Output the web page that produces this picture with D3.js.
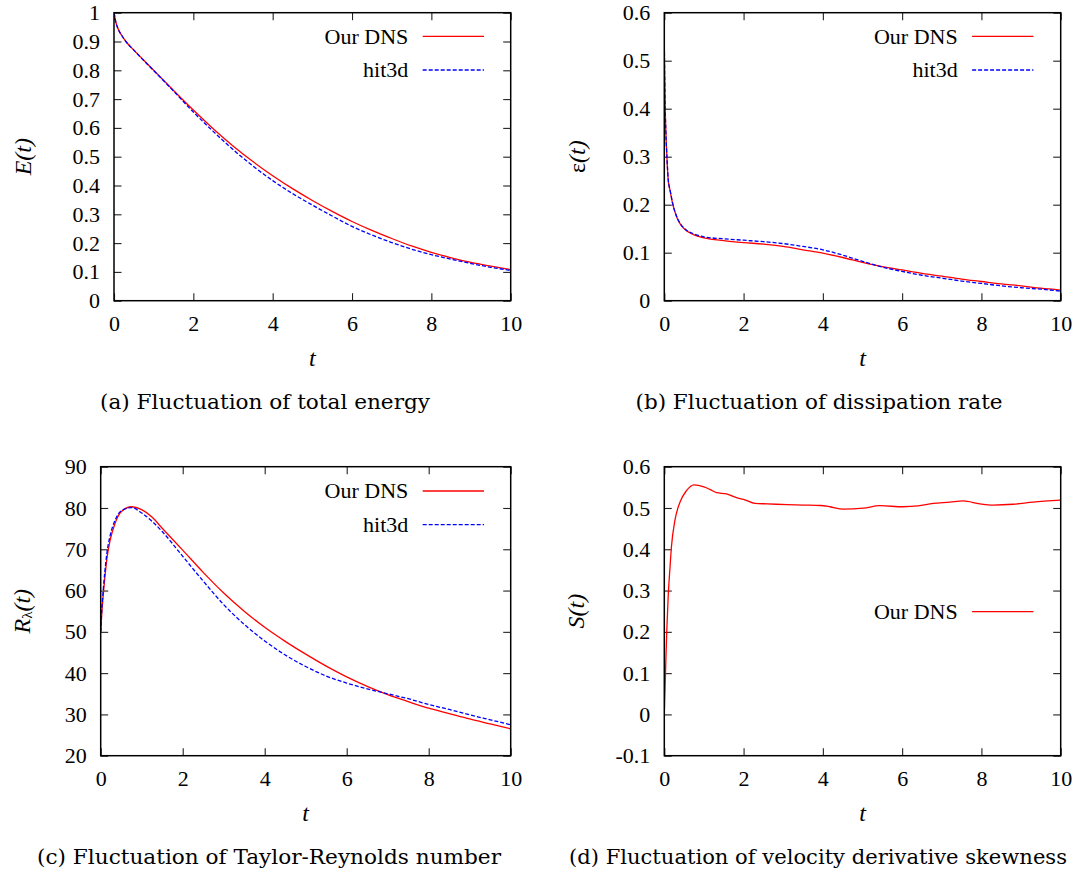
<!DOCTYPE html>
<html>
<head>
<meta charset="utf-8">
<script src="https://cdn.jsdelivr.net/npm/d3@7/dist/d3.min.js"></script>
<style>
  html, body { margin: 0; padding: 0; background: #fff; }
  svg { display: block; }
  .tick line { stroke: #222; stroke-width: 1.1; }
</style>
</head>
<body>
<svg id="fig" width="1092" height="874"></svg>
<script>
// ---- (a) total energy E(t)
const energyTime   = [0, 0.05, 0.1, 0.2, 0.3, 0.5, 0.75, 1, 1.5, 2, 2.5, 3, 3.5, 4, 4.5, 5, 5.5, 6, 6.5, 7, 7.5, 8, 8.5, 9, 9.5, 10];
const energyOurDNS = [1.0, 0.965, 0.945, 0.92, 0.9, 0.87, 0.835, 0.80, 0.73, 0.662, 0.597, 0.537, 0.483, 0.434, 0.389, 0.348, 0.31, 0.275, 0.244, 0.216, 0.19, 0.168, 0.149, 0.133, 0.12, 0.108];
const energyHit3d  = [1.0, 0.965, 0.945, 0.92, 0.9, 0.87, 0.834, 0.799, 0.728, 0.655, 0.588, 0.525, 0.468, 0.417, 0.372, 0.332, 0.294, 0.258, 0.228, 0.202, 0.179, 0.160, 0.144, 0.129, 0.116, 0.105];

// ---- (b) dissipation rate eps(t)
const dissipationTime   = [0, 0.01, 0.02, 0.04, 0.06, 0.08, 0.1, 0.15, 0.2, 0.3, 0.4, 0.5, 0.75, 1, 1.5, 2, 2.5, 3, 3.5, 4, 4.5, 5, 5.5, 6, 6.5, 7, 7.5, 8, 8.5, 9, 9.5, 10];
const dissipationOurDNS = [0.54, 0.47, 0.415, 0.35, 0.31, 0.275, 0.25, 0.228, 0.206, 0.177, 0.16, 0.15, 0.137, 0.131, 0.125, 0.121, 0.118, 0.113, 0.106, 0.099, 0.09, 0.08, 0.071, 0.064, 0.057, 0.051, 0.045, 0.04, 0.035, 0.031, 0.026, 0.022];
const dissipationHit3d  = [0.53, 0.465, 0.41, 0.35, 0.31, 0.277, 0.252, 0.229, 0.207, 0.178, 0.161, 0.151, 0.139, 0.133, 0.129, 0.126, 0.123, 0.119, 0.113, 0.106, 0.095, 0.082, 0.07, 0.061, 0.053, 0.047, 0.041, 0.036, 0.031, 0.027, 0.024, 0.02];

// ---- (c) Taylor-Reynolds number R_lambda(t)
const reynoldsTime   = [0, 0.03, 0.065, 0.1, 0.15, 0.23, 0.35, 0.5, 0.75, 1, 1.25, 1.5, 2, 2.5, 3, 3.5, 4, 4.5, 5, 5.5, 6, 6.5, 7, 7.5, 8, 8.5, 9, 9.5, 10];
const reynoldsOurDNS = [50, 55, 59.3, 63, 67.6, 72.2, 76.3, 79.1, 80.3, 79.6, 77.8, 75.1, 69.8, 64.4, 59.4, 55.0, 51.1, 47.7, 44.6, 41.7, 39.1, 36.8, 34.8, 33.1, 31.5, 30.2, 28.9, 27.7, 26.5];
const reynoldsHit3d  = [50, 56, 60.5, 64.5, 69, 73.3, 77, 79.3, 80.1, 78.8, 76.8, 74.3, 68.3, 62.3, 56.6, 51.8, 47.8, 44.4, 41.6, 39.3, 37.6, 36.2, 35.0, 33.8, 32.4, 31.2, 29.9, 28.7, 27.5];

// ---- (d) velocity derivative skewness S(t)
const skewnessTime   = [0, 0.03, 0.06, 0.1, 0.14, 0.18, 0.27, 0.4, 0.56, 0.75, 1.0, 1.15, 1.32, 1.57, 1.82, 2.0, 2.29, 2.6, 3.1, 3.5, 3.94, 4.18, 4.51, 5.02, 5.44, 6.02, 6.4, 6.78, 7.2, 7.54, 7.96, 8.29, 8.8, 9.3, 10];
const skewnessOurDNS = [0, 0.1, 0.196, 0.29, 0.35, 0.406, 0.471, 0.515, 0.542, 0.556, 0.551, 0.545, 0.537, 0.534, 0.525, 0.521, 0.511, 0.510, 0.508, 0.507, 0.506, 0.503, 0.497, 0.4995, 0.5055, 0.503, 0.505, 0.511, 0.514, 0.517, 0.510, 0.507, 0.509, 0.514, 0.519];

// ---- axis ticks
const timeTicks = [0, 2, 4, 6, 8, 10];
const energyTicks = [0, 0.1, 0.2, 0.3, 0.4, 0.5, 0.6, 0.7, 0.8, 0.9, 1];
const dissipationTicks = [0, 0.1, 0.2, 0.3, 0.4, 0.5, 0.6];
const reynoldsTicks = [20, 30, 40, 50, 60, 70, 80, 90];
const skewnessTicks = [-0.1, 0, 0.1, 0.2, 0.3, 0.4, 0.5, 0.6];

const seriesNames = ["Our DNS", "hit3d"];
const captions = [
  "(a) Fluctuation of total energy",
  "(b) Fluctuation of dissipation rate",
  "(c) Fluctuation of Taylor-Reynolds number",
  "(d) Fluctuation of velocity derivative skewness"
];

const SERIF = "'Liberation Serif', 'Times New Roman', serif";
const CAPTION_FONT = "'DejaVu Serif', serif";
const styles = [
  { color: "#ff0000", dash: null },
  { color: "#0000ff", dash: "4,2" }
];

const panels = [
  { box: { left: 114, right: 510.7, top: 12.7, bottom: 300.7 }, yDomain: [0, 1], yTicks: energyTicks,
    time: energyTime, series: [energyOurDNS, energyHit3d], yLabel: "E", legendTop: 36.3, legendTextRight: 408.3,
    caption: captions[0], captionWidth: 330, captionX: 265, yLabelX: 23 },
  { box: { left: 664.3, right: 1060.7, top: 12.7, bottom: 300.7 }, yDomain: [0, 0.6], yTicks: dissipationTicks,
    time: dissipationTime, series: [dissipationOurDNS, dissipationHit3d], yLabel: "eps", legendTop: 36.3, legendTextRight: 957.7,
    caption: captions[1], captionWidth: 367, captionX: 819, yLabelX: 577 },
  { box: { left: 100.7, right: 510.7, top: 466.7, bottom: 755.7 }, yDomain: [20, 90], yTicks: reynoldsTicks,
    time: reynoldsTime, series: [reynoldsOurDNS, reynoldsHit3d], yLabel: "R", legendTop: 491, legendTextRight: 408.3,
    caption: captions[2], captionWidth: 464, captionX: 269, yLabelX: 22 },
  { box: { left: 664.3, right: 1060.7, top: 466.7, bottom: 755.7 }, yDomain: [-0.1, 0.6], yTicks: skewnessTicks,
    time: skewnessTime, series: [skewnessOurDNS], yLabel: "S", legendTop: 611.7, legendTextRight: 957.7,
    caption: captions[3], captionWidth: 498, captionX: 818, yLabelX: 575.5 }
];

const svg = d3.select("#fig");
svg.append("rect").attr("width", 1092).attr("height", 874).attr("fill", "#fff");

const fmt = d => (d === 0 ? "0" : String(d));

panels.forEach((p, i) => {
  const b = p.box;
  const x = d3.scaleLinear().domain([0, 10]).range([b.left, b.right]);
  const y = d3.scaleLinear().domain(p.yDomain).range([b.bottom, b.top]);
  const g = svg.append("g");

  const clipId = "clip" + i;
  svg.append("clipPath").attr("id", clipId)
    .append("rect").attr("x", b.left).attr("y", b.top)
    .attr("width", b.right - b.left).attr("height", b.bottom - b.top);

  // inward ticks on all four sides
  const tickLen = 7.5;
  const styleAxis = a => {
    a.select(".domain").remove();
    a.selectAll(".tick text")
      .attr("fill", "#000")
      .style("font-family", SERIF)
      .style("font-size", "22px");
  };
  g.append("g").attr("transform", `translate(0,${b.bottom})`)
    .call(d3.axisBottom(x).tickValues(timeTicks).tickSize(-tickLen).tickPadding(15).tickFormat(fmt))
    .call(styleAxis);
  g.append("g").attr("transform", `translate(0,${b.top})`)
    .call(d3.axisTop(x).tickValues(timeTicks).tickSize(-tickLen).tickFormat(""))
    .call(styleAxis);
  g.append("g").attr("transform", `translate(${b.left},0)`)
    .call(d3.axisLeft(y).tickValues(p.yTicks).tickSize(-tickLen).tickPadding(14).tickFormat(fmt))
    .call(styleAxis);
  g.append("g").attr("transform", `translate(${b.right},0)`)
    .call(d3.axisRight(y).tickValues(p.yTicks).tickSize(-tickLen).tickFormat(""))
    .call(styleAxis);

  // curves
  const line = d3.line()
    .x((d, k) => x(p.time[k]))
    .y(d => y(d))
    .curve(d3.curveMonotoneX);
  p.series.forEach((vals, s) => {
    g.append("path")
      .attr("clip-path", `url(#${clipId})`)
      .attr("d", line(vals))
      .attr("fill", "none")
      .attr("stroke", styles[s].color)
      .attr("stroke-width", 1.3)
      .attr("stroke-dasharray", styles[s].dash);
  });

  // frame
  g.append("rect").attr("x", b.left).attr("y", b.top)
    .attr("width", b.right - b.left).attr("height", b.bottom - b.top)
    .attr("fill", "none").attr("stroke", "#000").attr("stroke-width", 1.5);

  // legend
  p.series.forEach((vals, s) => {
    const ly = p.legendTop + s * 33.7;
    g.append("text").attr("x", p.legendTextRight).attr("y", ly + 7.3)
      .attr("text-anchor", "end").style("font-family", SERIF).style("font-size", "22px")
      .text(seriesNames[s]);
    g.append("line").attr("x1", p.legendTextRight + 14.4).attr("x2", p.legendTextRight + 75.7)
      .attr("y1", ly).attr("y2", ly)
      .attr("stroke", styles[s].color).attr("stroke-width", 1.3)
      .attr("stroke-dasharray", styles[s].dash);
  });

  // x label
  g.append("text").attr("x", (b.left + b.right) / 2).attr("y", b.bottom + 65)
    .attr("text-anchor", "middle").style("font-family", SERIF).style("font-size", "24px")
    .attr("font-style", "italic").text("t");

  // y label
  const yl = g.append("text")
    .attr("transform", `translate(${p.yLabelX},${(b.top + b.bottom) / 2}) rotate(-90)`)
    .attr("text-anchor", "middle").attr("dominant-baseline", "central")
    .style("font-family", SERIF).style("font-size", "24px");
  if (p.yLabel === "eps") {
    yl.append("tspan").text("ε");
    yl.append("tspan").attr("font-style", "italic").text("(t)");
  } else if (p.yLabel === "R") {
    yl.append("tspan").attr("font-style", "italic").text("R");
    yl.append("tspan").style("font-size", "15px").attr("dy", 5).text("λ");
    yl.append("tspan").attr("font-style", "italic").attr("dy", -5).text("(t)");
  } else {
    yl.append("tspan").attr("font-style", "italic").text(p.yLabel + "(t)");
  }

  // caption
  g.append("text").attr("x", p.captionX).attr("y", b.bottom + 108)
    .attr("text-anchor", "middle").style("font-family", CAPTION_FONT).style("font-size", "20px")
    .attr("textLength", p.captionWidth).attr("lengthAdjust", "spacingAndGlyphs")
    .text(p.caption);
});
</script>
</body>
</html>
